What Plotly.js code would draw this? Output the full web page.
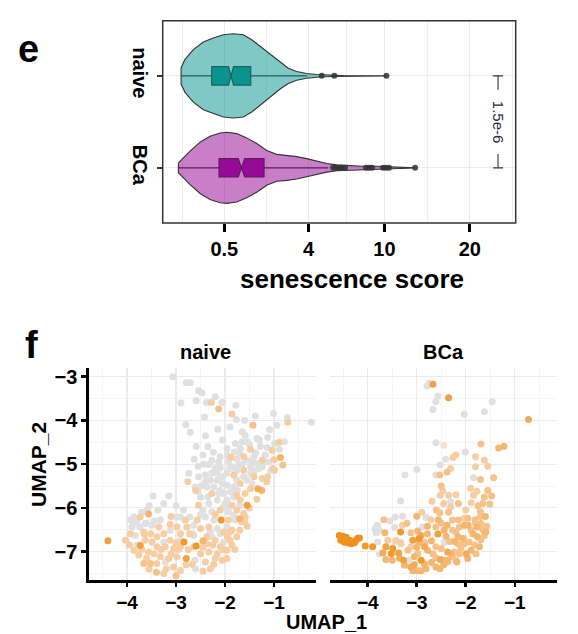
<!DOCTYPE html>
<html><head><meta charset="utf-8">
<script src="https://cdn.plot.ly/plotly-3.0.1.min.js"></script>
<style>html,body{margin:0;padding:0;background:#fff}#chart{width:578px;height:634px}</style>
</head><body><div id="chart"></div>
<script>
// ================= panel e : senescence score violins =================
const groupNames = ['BCa', 'naive'];
const groupPos = [1, 2];
const scoreTicks = [0.5, 4, 10, 20];

// violin outline profiles (score, relative density)
const naiveProfileScore = [0.0019, 0.0108, 0.054, 0.148, 0.290, 0.479, 0.714, 0.998, 1.270, 1.575, 1.98, 2.44, 2.85, 3.30, 3.88, 4.51, 5.42, 6.41, 10.2];
const naiveProfileDensity = [0.195, 0.391, 0.625, 0.805, 0.898, 0.977, 1.0, 0.977, 0.859, 0.703, 0.508, 0.313, 0.180, 0.102, 0.055, 0.031, 0.016, 0.008, 0.0];
const bcaProfileScore = [0.00001, 0.0061, 0.033, 0.112, 0.238, 0.411, 0.553, 0.805, 1.104, 1.450, 1.842, 2.283, 2.769, 3.30, 3.88, 4.51, 5.19, 5.91, 6.94, 8.06, 9.27, 10.55, 11.57, 13.2];
const bcaProfileDensity = [0.117, 0.242, 0.398, 0.609, 0.750, 0.828, 0.844, 0.813, 0.711, 0.578, 0.414, 0.320, 0.297, 0.266, 0.219, 0.156, 0.102, 0.070, 0.047, 0.039, 0.039, 0.023, 0.016, 0.0];

// box statistics (BCa, naive)
const boxQ1 = [0.392, 0.264];
const boxMedian = [0.941, 0.656];
const boxQ3 = [1.732, 1.237];
const boxLower = [0.00001, 0.002];
const boxUpper = [5.29, 3.92];
const notchLow = [0.85, 0.59];
const notchHigh = [1.04, 0.714];
const naiveOutliers = [4.84, 5.73, 10.2];
const bcaOutliers = [5.64, 5.86, 6.08, 6.31, 6.55, 8.30, 8.56, 8.84, 9.87, 10.16, 10.45, 13.2];
const pLabel = '1.5e-6';
const bracketScore = 24.06;

// ================= panel f : UMAP feature plots =================
const umapTicksX = [-4, -3, -2, -1];
const umapTicksY = [-7, -6, -5, -4, -3];
const naiveX = [-3.06,-2.79,-2.71,-2.54,-2.47,-2.59,-2.38,-2.28,-2.20,-2.06,-2.13,-2.42,-1.86,-1.78,-1.77,-1.43,-1.38,-1.01,-0.94,-0.73,-0.72,-0.24,-1.09,-1.35,-1.13,-1.65,-1.59,-2.71,-2.59,-0.79,-0.89,-1.04,-0.87,-0.82,-1.28,-1.48,-1.69,-1.79,-1.96,-1.88,-2.24,-2.45,-2.63,-2.44,-2.33,-2.13,-2.10,-1.93,-1.76,-1.62,-1.41,-1.24,-1.11,-1.07,-1.02,-1.31,-1.48,-1.62,-1.76,-1.82,-1.96,-2.74,-2.76,-2.54,-2.49,-2.30,-2.16,-2.27,-2.10,-1.96,-1.82,-1.69,-1.55,-1.41,-1.33,-1.48,-1.59,-1.55,-1.69,-1.82,-1.96,-2.03,-2.16,-2.33,-2.50,-2.54,-2.45,-2.27,-2.10,-1.93,-1.76,-1.62,-1.66,-1.79,-1.93,-2.08,-2.23,-2.40,-2.57,-2.72,-2.81,-2.91,-2.98,-3.12,-2.98,-2.78,-2.64,-2.50,-2.33,-2.16,-2.03,-1.86,-1.70,-1.76,-1.90,-2.03,-2.20,-2.37,-2.59,-2.84,-2.79,-2.64,-2.50,-2.33,-2.16,-1.96,-1.86,-2.06,-2.23,-2.40,-2.61,-2.67,-2.91,-3.05,-3.20,-3.40,-3.52,-3.66,-3.76,-3.86,-4.03,-4.39,-3.93,-3.90,-3.93,-3.80,-3.74,-3.73,-3.59,-3.56,-3.47,-3.37,-3.15,-3.32,-3.66,-3.73,-3.52,-3.39,-3.25,-3.12,-3.39,-3.22,-3.05,-3.56,-3.32,-3.15,-2.98,-3.49,-3.63,-3.83,-3.35,-3.12,-2.91,-2.72,-1.55,-1.59,-1.96,-2.30,-3.39,-2.37,-2.10,-2.91,-3.22,-1.86,-1.76,-1.24,-1.13,-0.99,-2.27,-2.16,-2.06,-2.40,-1.86,-1.72,-1.55,-1.45,-1.38,-1.18,-1.14,-0.99,-1.65,-1.55,-1.81,-2.10,-2.27,-2.03,-1.89,-1.76,-1.62,-1.48,-1.35,-1.24,-2.37,-2.23,-2.13,-1.93,-1.82,-1.96,-2.10,-2.27,-2.64,-2.91,-3.25,-3.49,-3.63,-3.86,-2.61,-2.56,
  -2.35,-2.05,-1.95,-1.70,-1.50,-1.30,-1.20,-1.40,-1.65,-1.90,-2.20,-2.55,-2.40,-2.05,-1.75,-1.45,-2.60,-2.35,-2.00,-1.70,-2.20,-2.50,-2.85,-3.00,-3.25,-3.55,-3.70,-3.85,-3.60,-3.45,-3.10,-2.65,-2.30,-1.95,-1.60,-1.50,-1.35,-1.25,-1.15,-1.00,-0.90,-1.60,-1.90,-2.15,-2.40,-2.80,-2.90,
  -3.80,-3.60,-3.45,-3.30,-3.10,-2.95,-2.75,-2.45,-2.25,-2.05,-1.80,-2.60,-2.45,-2.80,-3.55,-3.25,-3.00,-2.20,-1.90,-1.70,-2.45,-3.00,-3.65,-3.95,-3.70];
const naiveY = [-3.00,-3.14,-3.14,-3.32,-3.37,-3.55,-3.59,-3.59,-3.46,-3.59,-3.74,-3.92,-3.85,-3.65,-3.98,-4.11,-3.90,-3.84,-4.11,-3.93,-4.04,-4.04,-4.21,-4.41,-4.39,-4.26,-4.34,-4.27,-4.59,-4.49,-4.66,-4.68,-4.85,-5.02,-4.59,-4.66,-4.64,-4.53,-4.64,-4.85,-4.73,-4.79,-4.89,-5.00,-5.01,-4.95,-5.08,-4.95,-4.89,-4.83,-4.83,-4.91,-4.95,-5.14,-5.10,-5.10,-5.06,-5.14,-5.14,-5.25,-5.21,-5.21,-5.40,-5.29,-5.50,-5.37,-5.37,-5.67,-5.60,-5.48,-5.52,-5.44,-5.37,-5.29,-5.56,-5.56,-5.67,-5.94,-5.82,-5.75,-5.82,-5.67,-5.82,-5.90,-5.75,-5.94,-6.05,-6.09,-6.05,-6.09,-6.05,-6.13,-6.32,-6.28,-6.28,-6.28,-6.28,-6.21,-6.28,-6.21,-6.28,-6.21,-6.21,-6.38,-6.44,-6.44,-6.40,-6.47,-6.44,-6.47,-6.55,-6.51,-6.51,-6.66,-6.74,-6.78,-6.74,-6.66,-6.87,-6.78,-7.16,-6.89,-7.05,-7.01,-7.05,-6.97,-6.85,-7.20,-7.29,-7.24,-7.20,-7.29,-7.43,-7.35,-7.39,-7.47,-7.27,-7.27,-7.08,-6.97,-6.74,-6.75,-6.59,-6.44,-6.28,-6.32,-6.44,-6.21,-6.05,-6.14,-5.73,-6.05,-5.73,-6.28,-6.55,-6.86,-6.59,-6.66,-6.59,-6.74,-6.89,-6.89,-6.93,-7.01,-7.12,-7.16,-7.12,-6.78,-6.74,-6.63,-6.44,-6.51,-6.59,-6.59,-6.42,-6.21,-7.16,-7.39,-7.27,-6.82,-6.89,-6.89,-7.24,-5.94,-5.71,-5.33,-5.29,-5.14,-5.21,-5.21,-5.29,-5.25,-5.06,-5.02,-4.91,-4.95,-4.74,-4.79,-4.62,-4.53,-4.49,-4.49,-4.72,-4.83,-4.91,-5.98,-5.63,-5.37,-5.29,-5.21,-4.98,-5.06,-5.52,-5.52,-5.67,-5.98,-6.17,-6.44,-6.59,-6.66,-6.63,-6.74,-6.78,-6.40,-6.36,-6.21,-5.52,-5.62,
  -4.60,-4.45,-4.80,-4.75,-4.55,-4.45,-4.95,-5.15,-5.00,-5.10,-5.10,-5.05,-5.40,-5.45,-5.60,-5.45,-5.60,-5.75,-5.90,-5.95,-6.15,-6.15,-6.05,-5.95,-5.90,-5.95,-6.10,-6.35,-6.35,-6.30,-6.20,-6.60,-6.55,-6.65,-6.30,-6.00,-5.80,-5.60,-5.40,-4.90,-4.50,-4.00,-4.15,-4.20,-4.35,-4.10,-3.60,
  -6.85,-7.15,-7.05,-6.95,-7.05,-6.95,-6.95,-6.90,-6.85,-6.95,-6.95,-7.40,-7.45,-7.30,-7.40,-7.50,-7.55,-7.15,-6.55,-6.25,-6.75,-6.80,-6.60,-6.85,-6.95];
const naiveScore = [0,0,0,0,0,0,0,.3,0,0,.4,0,.3,0,0,.4,0,0,0,0,.3,0,0,0,0,0,0,0,0,0,0,.3,.5,.4,0,.3,0,0,0,.3,0,0,0,0,0,0,0,0,0,.3,0,.3,0,0,.3,0,0,.3,0,.3,0,0,.3,0,0,0,0,.3,0,0,0,.3,0,.3,.6,.3,.3,.7,.3,0,0,0,0,0,0,.3,0,0,.3,0,.3,.3,.3,0,.3,.8,0,0,.3,0,.3,0,0,.3,.3,.3,0,.3,.3,0,.3,.3,.3,.3,.3,0,.3,.3,.8,.8,.7,.3,.3,.3,.3,.3,.3,.3,.3,.3,0,.3,.3,.3,.3,.4,.4,.4,.3,.3,.3,.7,.3,0,0,0,0,.3,0,.5,0,0,0,0,.3,.7,.3,.3,.3,.3,.3,.3,.3,.3,.3,.3,.3,.3,.3,0,.3,0,.3,.3,.3,.3,.3,.3,.3,.3,.3,.3,0,.3,.3,.3,.3,.3,0,0,0,0,0,0,0,0,0,0,0,0,0,0,0,0,0,0,0,0,0,0,0,0,0,0,0,0,0,0,0,0,0,0,0,0,0,0,0,0,0,
  0,0,0,0,0,0,0,0,0,0,0,0,0,0,0,.3,0,0,0,.3,0,0,0,0,0,0,0,0,0,.3,0,0,.3,.3,.3,.3,.5,.3,.3,.3,0,0,0,0,0,0,0,
  .3,.3,.3,.3,.3,.3,.3,.3,.3,.3,0,.3,.3,.3,.3,.4,.3,.3,.5,.5,.3,.3,.3,.3,.3];
const bcaX = [-2.79,-2.75,-2.67,-2.57,-2.61,-2.67,-2.35,-2.03,-1.62,-1.46,-0.72,-2.61,-2.45,-2.01,-2.20,-2.26,-2.41,-1.69,-1.33,-1.22,-1.80,-1.62,-1.55,-1.80,-2.52,-2.31,-2.38,-2.53,-2.61,-3.00,-3.24,-1.43,-1.84,-2.50,-2.47,-2.35,-2.52,-1.84,-1.77,-1.62,-1.47,-1.65,-1.51,-1.89,-2.15,-2.31,-2.31,-2.69,-3.33,-2.53,-2.71,-2.56,-2.38,-2.27,-2.15,-2.03,-1.96,-1.81,-1.70,-1.70,-1.69,-1.57,-1.77,-1.89,-2.03,-2.13,-2.27,-2.44,-2.57,-2.81,-3.00,-2.88,-2.78,-2.61,-3.12,-2.98,-3.08,-2.95,-2.91,-2.78,-3.33,-3.29,-3.44,-3.29,-3.67,-3.80,-3.85,-3.76,-3.83,-3.65,-3.59,-3.42,-3.32,-3.63,-3.49,-3.37,-3.52,-3.69,-3.63,-3.76,-3.18,-3.17,-3.05,-2.91,-2.98,-2.78,-2.67,-2.61,-2.52,-2.44,-2.37,-2.27,-2.20,-2.23,-2.37,-2.50,-2.61,-2.84,-2.84,-2.95,-3.12,-3.27,-3.25,-3.12,-3.08,-2.98,-2.91,-2.81,-2.84,-2.61,-2.53,-2.37,-2.18,-2.13,-2.10,-2.16,-1.99,-1.96,-1.89,-1.82,-1.79,-1.72,-1.69,-1.59,-1.62,-1.76,-1.93,-2.03,-2.16,-2.23,-2.33,-2.44,-3.33,-3.80,-3.44,-4.58,-4.51,-4.44,-4.37,-4.31,-4.24,-4.17,-4.55,-4.48,-4.41,-4.34,-4.27,-4.21,-4.05,-3.90,
  -3.00,-2.70,-2.40,-2.20,-1.85,-1.65,-1.60,-1.75,-1.55,-1.70,-1.90,-2.45,-2.60,-2.35,-2.00,-3.45,-3.55,-3.20,-3.50,-3.35,-3.05,-2.70,-2.45,-2.30,-2.05,-1.95,-1.80,-2.50,-2.90,-2.20];
const bcaY = [-3.21,-3.15,-3.17,-3.44,-3.57,-3.75,-3.48,-3.86,-3.80,-3.57,-3.98,-4.51,-4.57,-4.72,-4.79,-4.85,-4.89,-4.54,-4.63,-4.59,-4.83,-4.91,-5.05,-5.06,-5.02,-5.10,-5.18,-5.25,-5.25,-5.12,-5.25,-5.31,-5.31,-5.50,-5.61,-5.71,-5.71,-5.71,-5.62,-5.75,-5.73,-5.90,-5.91,-5.88,-5.90,-5.86,-5.98,-5.85,-5.84,-6.11,-6.27,-6.27,-6.40,-6.28,-6.28,-6.24,-6.24,-6.27,-6.09,-6.20,-6.36,-6.42,-6.44,-6.51,-6.40,-6.44,-6.51,-6.51,-6.60,-6.22,-6.19,-6.44,-6.42,-6.44,-6.57,-6.53,-6.74,-6.70,-6.63,-6.59,-6.55,-6.40,-6.21,-6.19,-6.27,-6.40,-6.47,-6.51,-6.57,-6.57,-6.74,-6.74,-6.82,-6.89,-6.93,-7.03,-7.05,-7.03,-7.18,-7.05,-6.97,-7.20,-7.12,-7.20,-7.05,-6.97,-7.05,-7.14,-7.18,-7.20,-7.20,-7.12,-7.20,-7.01,-7.01,-6.93,-6.89,-6.89,-6.79,-6.79,-6.89,-7.20,-7.31,-7.35,-7.44,-7.44,-7.44,-7.39,-7.29,-7.35,-7.39,-7.24,-7.24,-7.05,-6.92,-6.82,-7.05,-7.16,-6.97,-6.85,-7.05,-6.89,-6.73,-6.55,-6.63,-6.66,-6.78,-6.82,-6.66,-6.77,-6.77,-6.79,-6.78,-6.78,-6.78,-6.63,-6.65,-6.67,-6.74,-6.78,-6.74,-6.69,-6.74,-6.78,-6.80,-6.82,-6.80,-6.70,-6.87,-6.89,
  -6.90,-6.75,-6.65,-6.55,-6.60,-6.50,-6.20,-5.95,-5.60,-5.35,-5.55,-5.90,-6.05,-6.10,-6.05,-6.45,-6.30,-6.35,-7.20,-7.15,-7.30,-7.25,-7.30,-7.05,-6.70,-6.40,-6.35,-6.35,-6.10,-5.70];
const bcaScore = [0,0,.7,0,0,0,.7,0,0,0,.6,0,.2,0,.3,.3,0,.4,.5,.5,.3,.3,.3,.3,0,.3,.4,.4,0,0,0,.4,0,.4,.3,.3,.3,.3,.3,.4,.4,.4,.4,.3,.4,0,.3,.3,0,.4,.3,.5,.5,.4,.4,.3,.4,.4,.4,.4,.4,.4,.5,.4,.5,.4,.4,.5,.7,0,.5,0,.5,.4,.4,.5,.7,.8,.6,.5,.8,.3,0,0,.4,0,0,0,0,.5,.3,.3,.3,.7,.8,.7,.8,.6,.5,0,.4,0,.5,.8,.4,.5,.4,.4,.6,.4,.5,.4,.3,.4,.6,.4,.4,.6,.4,.5,.3,.7,.5,.6,.5,.5,.5,.5,.5,.5,.5,.4,.5,.4,.4,.4,.6,.5,.5,.4,.4,.5,.4,.5,.4,.5,.4,.4,.5,.5,.4,0,0,0,0,.9,.9,.9,.9,.9,.9,.9,.9,.9,.9,.9,.9,.9,.8,.8,
  .5,.5,.5,.4,.5,.4,.5,.4,.4,.4,.3,.3,.4,.4,.3,0,0,.4,.5,.6,.6,.5,.5,.5,.5,.5,.4,.4,.3,.3];

// ================= build =================
const W = 578, H = 634;
const px = v => v / W, py = v => 1 - v / H;
const FONT = 'Liberation Sans, Arial, Helvetica, sans-serif';
const sq = v => Math.sqrt(v);
const halfMax = 0.458;
const violinFill = ['rgba(145,0,145,0.5)', 'rgba(0,146,140,0.5)'];
const boxFill = ['#98159a', '#17948f'];
const edge = '#333333';

function violinTrace(scores, dens, pos, fill) {
  const xs = [], ys = [];
  scores.forEach((s, i) => { xs.push(sq(s)); ys.push(pos + dens[i] * halfMax); });
  for (let i = scores.length - 1; i >= 0; i--) { xs.push(sq(scores[i])); ys.push(pos - dens[i] * halfMax); }
  xs.push(xs[0]); ys.push(ys[0]);
  return {type: 'scatter', mode: 'lines', x: xs, y: ys, fill: 'toself', fillcolor: fill,
          line: {color: edge, width: 1.1}, hoverinfo: 'skip', showlegend: false, xaxis: 'x', yaxis: 'y'};
}

const traces = [];
traces.push(violinTrace(naiveProfileScore, naiveProfileDensity, groupPos[1], violinFill[1]));
traces.push(violinTrace(bcaProfileScore, bcaProfileDensity, groupPos[0], violinFill[0]));

groupNames.forEach((g, i) => {
  traces.push({type: 'box', orientation: 'h', y: [groupPos[i]], name: g,
    q1: [sq(boxQ1[i])], median: [sq(boxMedian[i])], q3: [sq(boxQ3[i])],
    lowerfence: [sq(boxLower[i])], upperfence: [sq(boxUpper[i])],
    notched: true, notchspan: [(sq(notchHigh[i]) - sq(notchLow[i])) / 2], notchwidth: 0.5,
    width: 0.2, whiskerwidth: 0, fillcolor: boxFill[i], line: {color: edge, width: 1.2},
    boxpoints: false, hoverinfo: 'skip', showlegend: false, xaxis: 'x', yaxis: 'y'});
});
traces.push({type: 'scatter', mode: 'markers',
  x: naiveOutliers.map(sq).concat(bcaOutliers.map(sq)),
  y: naiveOutliers.map(() => groupPos[1]).concat(bcaOutliers.map(() => groupPos[0])),
  marker: {color: 'rgba(51,51,51,0.85)', size: 6}, hoverinfo: 'skip', showlegend: false, xaxis: 'x', yaxis: 'y'});

// significance bracket
const bx = sq(bracketScore), mid = (groupPos[0] + groupPos[1]) / 2, gap = 0.35;
traces.push({type: 'scatter', mode: 'lines', x: [bx, bx, null, bx, bx],
  y: [groupPos[1], mid + gap, null, mid - gap, groupPos[0]], line: {color: edge, width: 1.1},
  hoverinfo: 'skip', showlegend: false, xaxis: 'x', yaxis: 'y'});
traces.push({type: 'scatter', mode: 'markers', x: [bx, bx], y: groupPos,
  marker: {symbol: 'line-ew', size: 7, line: {color: edge, width: 1.1}},
  hoverinfo: 'skip', showlegend: false, xaxis: 'x', yaxis: 'y'});

// UMAP scatter (higher scores drawn on top)
const umapScale = [[0, '#e0e0e0'], [0.2, '#f9e2cc'], [0.3, '#f7cea4'], [0.5, '#f5b66f'], [0.7, '#f2a040'], [1, '#ee8a08']];
function umapTrace(xs, ys, cs, xa, ya) {
  const idx = cs.map((c, i) => i).sort((a, b) => cs[a] - cs[b]);
  return {type: 'scatter', mode: 'markers', x: idx.map(i => xs[i]), y: idx.map(i => ys[i]),
    marker: {size: 7, color: idx.map(i => cs[i]), cmin: 0, cmax: 1,
      colorscale: umapScale, line: {width: 0}},
    hoverinfo: 'skip', showlegend: false, xaxis: xa, yaxis: ya};
}
traces.push(umapTrace(naiveX, naiveY, naiveScore, 'x2', 'y2'));
traces.push(umapTrace(bcaX, bcaY, bcaScore, 'x3', 'y3'));

// minor gridlines of the sqrt axis (midpoints in transformed space)
const tT = scoreTicks.map(sq);
const minorVals = [tT[0] - (tT[1] - tT[0]) / 2];
for (let i = 0; i < tT.length - 1; i++) minorVals.push((tT[i] + tT[i + 1]) / 2);
minorVals.push(tT[tT.length - 1] + (tT[tT.length - 1] - tT[tT.length - 2]) / 2);

const grid = '#ebebeb';
const bold = (size, color) => ({family: FONT, size: size, color: color || '#000', weight: 'bold'});

const umapX = (dom, anchor) => ({domain: dom, anchor: anchor, range: [-4.78, -0.14], tickvals: umapTicksX,
  ticks: 'outside', ticklen: 4, tickwidth: 2.5, tickcolor: '#000', showline: true, linecolor: '#000', linewidth: 2.5,
  showgrid: true, gridcolor: grid, gridwidth: 1.1, zeroline: false, tickfont: bold(19),
  minor: {dtick: 0.5, showgrid: true, gridcolor: '#f2f2f2', gridwidth: 0.8, ticks: ''}});
const umapYdom = [py(580), py(368)];

const layout = {
  width: W, height: H, margin: {l: 0, r: 0, t: 0, b: 0}, paper_bgcolor: '#fff', plot_bgcolor: '#fff',
  showlegend: false, boxmode: 'overlay', font: {family: FONT},
  xaxis: {domain: [px(162.7), px(515.7)], anchor: 'y', range: [-0.238, 5.176],
    tickvals: tT, ticktext: scoreTicks.map(String), ticks: 'outside', ticklen: 8, tickwidth: 3, tickcolor: '#000',
    showline: false, showgrid: true, gridcolor: grid, gridwidth: 1.1, zeroline: false, tickfont: bold(20),
    minor: {tickmode: 'array', tickvals: minorVals, showgrid: true, gridcolor: grid, gridwidth: 0.8, ticks: ''}},
  yaxis: {domain: [py(223), py(20.7)], anchor: 'x', range: [0.4, 2.6], tickvals: groupPos, ticktext: groupNames,
    tickangle: 90, ticks: 'outside', ticklen: 5, tickwidth: 2, tickcolor: edge, showline: false,
    showgrid: true, gridcolor: grid, gridwidth: 1.1, zeroline: false, tickfont: bold(20)},
  xaxis2: umapX([px(88.8), px(316.2)], 'y2'),
  yaxis2: {domain: umapYdom, anchor: 'x2', range: [-7.65, -2.8], tickvals: umapTicksY,
    ticks: 'outside', ticklen: 5, tickwidth: 2.5, tickcolor: '#000', showline: true, linecolor: '#000', linewidth: 2.5,
    showgrid: true, gridcolor: grid, gridwidth: 1.1, zeroline: false, tickfont: bold(20),
    minor: {dtick: 0.5, showgrid: true, gridcolor: '#f2f2f2', gridwidth: 0.8, ticks: ''}},
  xaxis3: umapX([px(329.5), px(556.9)], 'y3'),
  yaxis3: {domain: umapYdom, anchor: 'x3', range: [-7.65, -2.8], tickvals: umapTicksY, showticklabels: false,
    ticks: '', showline: false, showgrid: true, gridcolor: grid, gridwidth: 1.1, zeroline: false,
    minor: {dtick: 0.5, showgrid: true, gridcolor: '#f2f2f2', gridwidth: 0.8, ticks: ''}},
  shapes: [{type: 'rect', xref: 'paper', yref: 'paper', x0: px(162.7), x1: px(515.7), y0: py(223), y1: py(20.7),
    line: {color: edge, width: 1.5}, layer: 'above'}],
  annotations: [
    {text: 'e', xref: 'paper', yref: 'paper', x: px(28), y: py(49), showarrow: false, font: bold(38), xanchor: 'center', yanchor: 'middle'},
    {text: 'f', xref: 'paper', yref: 'paper', x: px(31), y: py(345), showarrow: false, font: bold(38), xanchor: 'center', yanchor: 'middle'},
    {text: 'senescence score', xref: 'paper', yref: 'paper', x: px(352), y: py(279), showarrow: false, font: bold(26), xanchor: 'center', yanchor: 'middle'},
    {text: pLabel, xref: 'x', yref: 'y', x: bx, y: mid, textangle: 90, showarrow: false,
      font: {family: FONT, size: 15, color: '#1c2b45'}, xanchor: 'center', yanchor: 'middle'},
    {text: 'naive', xref: 'paper', yref: 'paper', x: px(205), y: py(352), showarrow: false, font: bold(20), xanchor: 'center', yanchor: 'middle'},
    {text: 'BCa', xref: 'paper', yref: 'paper', x: px(443), y: py(352), showarrow: false, font: bold(20), xanchor: 'center', yanchor: 'middle'},
    {text: 'UMAP_1', xref: 'paper', yref: 'paper', x: px(326), y: py(622), showarrow: false, font: bold(20), xanchor: 'center', yanchor: 'middle'},
    {text: 'UMAP_2', xref: 'paper', yref: 'paper', x: px(38), y: py(465), textangle: -90, showarrow: false, font: bold(21), xanchor: 'center', yanchor: 'middle'}
  ]
};

Plotly.newPlot('chart', traces, layout, {staticPlot: true, displayModeBar: false});
</script></body></html>
